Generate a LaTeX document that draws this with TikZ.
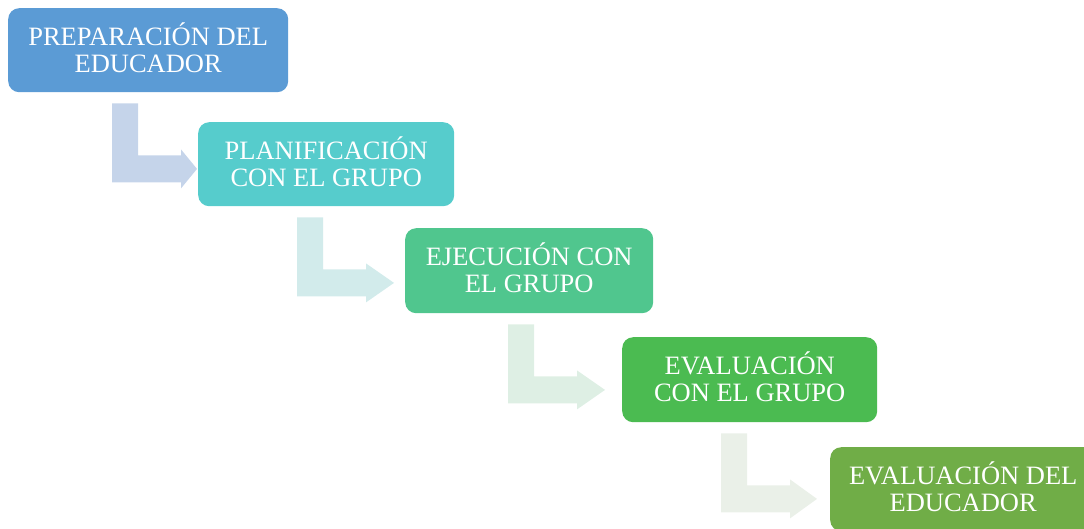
\documentclass[tikz,border=0pt]{standalone}
\usepackage{fontspec}
\setmainfont{Liberation Serif}
\usetikzlibrary{calc}

\definecolor{prepcol}{HTML}{5B9BD5}
\definecolor{plancol}{HTML}{56CCCC}
\definecolor{ejeccol}{HTML}{50C68E}
\definecolor{evalgcol}{HTML}{4BBB51}
\definecolor{evalecol}{HTML}{70AD47}
\definecolor{arrowa}{HTML}{C5D4EA}
\definecolor{arrowb}{HTML}{D2EBEB}
\definecolor{arrowc}{HTML}{DEEFE4}
\definecolor{arrowd}{HTML}{EAF0E8}

\tikzset{
  etapa/.style={fill=#1, rounded corners=11pt, text=white, align=center,
    anchor=north west, inner sep=0pt, minimum height=84pt,
    font=\fontsize{26.5}{27}\selectfont},
}

% #1 from, #2 to, #3 colour, #4 offset of the bar, #5 gap before the box
\newcommand{\bentarrow}[5]{%
  \fill[#3] let \p1=(#1.south west), \p2=(#2.west) in
    (\x1+#4pt,\y1-11pt) -- ++(26,0) -- ++(0,-52) -- (\x1+#4pt+69pt,\y1-63pt)
    -- ++(0,6) -- (\x2-#5pt,\y1-76.5pt) -- (\x1+#4pt+69pt,\y1-96pt)
    -- ++(0,6) -- (\x1+#4pt,\y1-90pt) -- cycle;}

\begin{document}
\begin{tikzpicture}[x=1pt,y=1pt]
\useasboundingbox (0,0) rectangle (1084,-528);
\clip (0,0) rectangle (1084,-528);

\node[etapa=prepcol, minimum width=280pt] (prep) at (8,-8) {PREPARACI\smash{Ó}N DEL\\EDUCADOR};
\node[etapa=plancol, minimum width=256pt] (plan) at (198,-122) {PLANIFICACI\smash{Ó}N\\CON EL GRUPO};
\node[etapa=ejeccol, minimum width=248pt, minimum height=85pt] (ejec) at (405,-228) {EJECUCI\smash{Ó}N CON\\EL GRUPO};
\node[etapa=evalgcol, minimum width=255pt, minimum height=85pt] (evalg) at (622,-337) {EVALUACI\smash{Ó}N\\CON EL GRUPO};
\node[etapa=evalecol, minimum width=266pt] (evale) at (830,-447) {EVALUACI\smash{Ó}N DEL\\EDUCADOR};

\bentarrow{prep}{plan}{arrowa}{104}{1}
\bentarrow{plan}{ejec}{arrowb}{99}{11}
\bentarrow{ejec}{evalg}{arrowc}{103}{17}
\bentarrow{evalg}{evale}{arrowd}{99}{13}
\end{tikzpicture}
\end{document}
